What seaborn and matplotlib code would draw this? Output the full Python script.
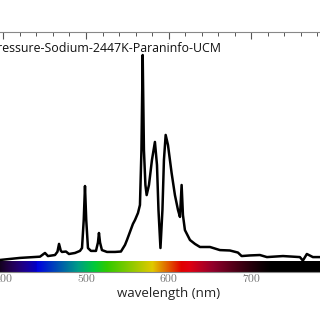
import numpy as np
import pandas as pd
import matplotlib
matplotlib.use("Agg")
import matplotlib.pyplot as plt
import seaborn as sns

# Spectrum (wavelength nm, relative intensity)
wavelength = [380, 396.0, 420.2, 444.4, 450.4, 454.0, 462.5, 465.5, 467.4, 469.5, 471.0, 475.8, 479.4,
              486.7, 492.7, 495.2, 497.3, 498.8, 500.3, 502.4, 506.0, 512.1, 514.5, 515.7, 517.0,
              519.3, 525.4, 535.1, 542.3, 547.2, 549.6, 553.2, 556.8, 559.3, 562.9, 565.3,
              567.1, 568.6, 570.1, 571.9, 573.4, 576.2, 579.8, 583.4, 585.9, 587.7, 590.1,
              592.5, 594.3, 596.4, 599.2, 603.6, 607.6, 611.3, 613.7, 615.7, 617.3, 619.7,
              625.8, 631.8, 637.9, 650.0, 662.0, 674.1, 683.8, 688.3, 698.3, 710.4, 718.9,
              738.3, 758.8, 762.4, 767.2, 774.5, 783.0, 820]
intensity = [0.003, 0.005, 0.015, 0.021, 0.039, 0.024, 0.029, 0.045, 0.083, 0.050, 0.044, 0.046, 0.034,
             0.039, 0.049, 0.063, 0.200, 0.364, 0.200, 0.063, 0.049, 0.049, 0.090, 0.136, 0.090,
             0.053, 0.044, 0.044, 0.046, 0.078, 0.102, 0.141, 0.180, 0.199, 0.233, 0.272,
             0.539, 1.000, 0.539, 0.369, 0.320, 0.369, 0.490, 0.578, 0.466, 0.248, 0.063,
             0.248, 0.490, 0.612, 0.563, 0.427, 0.320, 0.248, 0.214, 0.369, 0.223, 0.150,
             0.102, 0.083, 0.068, 0.068, 0.053, 0.051, 0.041, 0.024, 0.027, 0.029, 0.019,
             0.024, 0.019, 0.002, 0.034, 0.019, 0.019, 0.019]

title_text = "High-Pressure-Sodium-2447K-Paraninfo-UCM"
xlabel_text = "wavelength (nm)"
major_ticks = [400, 500, 600, 700]

def wl_to_rgb(wl):
    wl = np.asarray(wl, dtype=float)
    r = np.zeros_like(wl); g = np.zeros_like(wl); b = np.zeros_like(wl)
    m = (wl >= 380) & (wl < 440); r[m] = -(wl[m] - 440) / 60 * 0.8; b[m] = 1
    m = (wl >= 440) & (wl < 490); g[m] = (wl[m] - 440) / 50 * 0.7; b[m] = 1 - (wl[m] - 440) / 50 * 0.4
    m = (wl >= 490) & (wl < 510); g[m] = 0.7 + (wl[m] - 490) / 20 * 0.2; b[m] = 0.6 - (wl[m] - 490) / 20 * 0.35
    m = (wl >= 510) & (wl < 580); r[m] = (wl[m] - 510) / 70; g[m] = 0.9; b[m] = np.clip(0.25 - (wl[m] - 510) / 60, 0, 1)
    m = (wl >= 580) & (wl < 615); r[m] = 1; g[m] = 0.9 * (615 - wl[m]) / 35
    m = (wl >= 615); r[m] = 1; b[m] = np.clip((wl[m] - 615) / 40, 0, 1) * 0.3
    f = np.ones_like(wl)
    m = wl < 440; f[m] = np.clip((wl[m] - 392) / 48, 0, 1) * 0.8 + 0.08
    m = wl > 625; f[m] = np.clip((725 - wl[m]) / 100, 0, 1) ** 1.3
    rgb = np.stack([r, g, b], axis=-1) * f[:, None] * 0.88
    return np.clip(rgb, 0, 1)

sns.set_style("ticks")
fig = plt.figure(figsize=(3.2, 3.2), dpi=100)
ax = fig.add_axes([-0.0413, 0.15, 1.1366, 0.75])

df = pd.DataFrame({"wavelength": wavelength, "intensity": intensity})
sns.lineplot(data=df, x="wavelength", y="intensity", color="black", linewidth=1.8, ax=ax)

xlo, xhi = 380, 820
ylo, yhi = -0.0534, 1.1117
wls = np.linspace(xlo, xhi, 600)
img = wl_to_rgb(wls)[None, :, :]
ax.imshow(img, extent=[xlo, xhi, ylo, 0], aspect="auto", zorder=1)

ax.set_xlim(xlo, xhi)
ax.set_ylim(ylo, yhi)
ax.set_xticks(major_ticks)
ax.set_xticks(np.arange(380, 821, 20), minor=True)
ax.set_xticklabels([str(t) for t in major_ticks], family="cmr10", color="#777777", fontsize=8.5)
ax.tick_params(axis="x", which="both", direction="in", top=True, bottom=True, pad=2)
ax.tick_params(axis="x", which="major", length=5, width=0.8, color="#555555")
ax.tick_params(axis="x", which="minor", length=3, width=0.7, color="#555555")
ax.set_yticks([])
for s in ["top", "left", "right", "bottom"]:
    ax.spines[s].set_color("#888888")
    ax.spines[s].set_linewidth(0.8)
ax.set_xlabel("")
ax.set_ylabel("")

ax.text(600, -0.160, xlabel_text, ha="center", va="center", fontsize=9.5,
        family="Open Sans", color="#222222")
ax.text(664, 1.032, title_text, ha="right", va="center", fontsize=8.9,
        family="Open Sans", color="#111111")

fig.savefig("out.png", dpi=100)
